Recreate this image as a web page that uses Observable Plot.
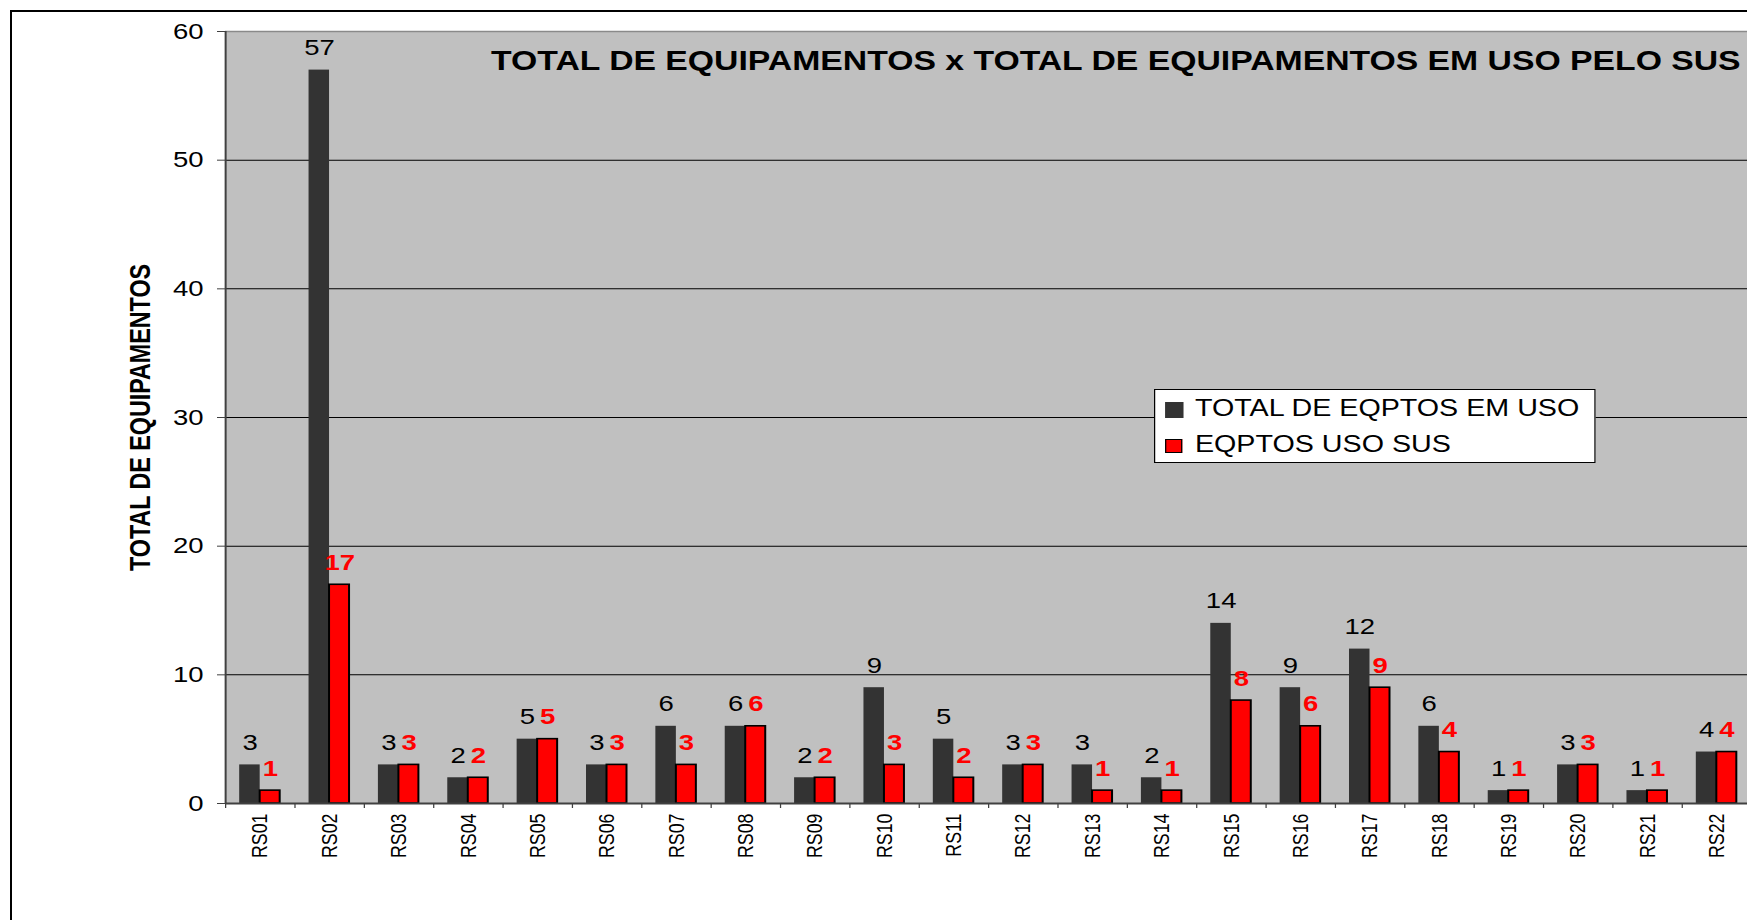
<!DOCTYPE html>
<html>
<head>
<meta charset="utf-8">
<script src="https://cdn.jsdelivr.net/npm/d3@7"></script>
<script src="https://cdn.jsdelivr.net/npm/@observablehq/plot@0.6"></script>
<style>
  html, body { margin: 0; padding: 0; overflow: hidden; background: white; width: 1747px; height: 920px; }
  body { font-family: "Liberation Sans", Arial, sans-serif; }
  #root { position: relative; width: 1747px; height: 920px; overflow: hidden; }
  #chart { position: absolute; left: 0; top: 0; width: 1760px; height: 920px; }
  #border { position: absolute; left: 10px; top: 10px; width: 1800px; height: 1000px; border: 2px solid #000; pointer-events: none; }
  #legend { position: absolute; left: 1154px; top: 389px; width: 439px; height: 74px; }
  #legend .box { position: absolute; left: 0; top: 0; width: 357px; height: 72px; border: 1px solid #000; background: #fff; transform: scaleX(1.23); transform-origin: 0 0; }
  #legend .sw { position: absolute; box-sizing: border-box; }
  #legend .lab { position: absolute; font-size: 23.3px; line-height: 1; white-space: nowrap; color: #000; }
</style>
</head>
<body>
<div id="root">
<div id="chart"></div>
<div id="legend"></div>
<div id="border"></div>
</div>
<script>
// ---- data ----
const regions = ["RS01","RS02","RS03","RS04","RS05","RS06","RS07","RS08","RS09","RS10","RS11",
                 "RS12","RS13","RS14","RS15","RS16","RS17","RS18","RS19","RS20","RS21","RS22"];
const totalEmUso = [3,57,3,2,5,3,6,6,2,9,5,3,3,2,14,9,12,6,1,3,1,4];
const usoSus     = [1,17,3,2,5,3,3,6,2,3,2,3,1,1,8,6,9,4,1,3,1,4];
const yTicks = [0,10,20,30,40,50,60];
const seriesNames = ["TOTAL DE EQPTOS EM USO", "EQPTOS USO SUS"];
const seriesColors = ["#333333", "#ff0000"];
const titleText = "TOTAL DE EQUIPAMENTOS x TOTAL DE EQUIPAMENTOS EM USO PELO SUS";
const yTitle = "TOTAL DE EQUIPAMENTOS";

const data = regions.map((r, i) => ({region: r, total: totalEmUso[i], sus: usoSus[i]}));

// ---- layout (user units; svg is stretched horizontally by S) ----
const S = 1.25;
const W = 1408, H = 920;
const mL = 180, mR = 7.2, mT = 31, mB = 117;
const step = (W - mL - mR) / regions.length;
const wDark = 20.5 / S, wRed = 20 / S;

const chart = Plot.plot({
  width: W, height: H,
  marginLeft: mL, marginRight: mR, marginTop: mT, marginBottom: mB,
  style: {fontFamily: "'Liberation Sans', Arial, sans-serif", background: "transparent", color: "black"},
  x: {domain: regions, paddingInner: 0, paddingOuter: 0, round: false},
  y: {domain: [yTicks[0], yTicks[yTicks.length - 1]]},
  marks: [
    Plot.frame({fill: "#c0c0c0", stroke: null}),
    Plot.ruleY(yTicks.slice(1, -1), {stroke: "#000", strokeWidth: 1}),
    Plot.ruleY([yTicks[yTicks.length - 1]], {stroke: "#8a8a8a", strokeWidth: 1.5}),
    Plot.barY(data, {x: "region", y: "total", fill: seriesColors[0],
      insetLeft: step / 2 - wDark, insetRight: step / 2}),
    Plot.barY(data, {x: "region", y: "sus", fill: seriesColors[1], stroke: "#000", strokeWidth: 1.6,
      insetLeft: step / 2, insetRight: step / 2 - wRed}),
    Plot.ruleY([0], {stroke: "#404040", strokeWidth: 2}),
    Plot.ruleX([regions[0]], {dx: -step / 2, stroke: "#404040", strokeWidth: 1.6}),
    Plot.axisY({ticks: yTicks, tickSize: 6.4, tickPadding: 11.2, fontSize: 22, label: null, stroke: "#404040"}),
    Plot.axisX({tickSize: 5, tickFormat: () => "", dx: -step / 2, label: null, stroke: "#404040"}),
    Plot.axisX({tickSize: 0, tickPadding: 10, tickRotate: -90, fontSize: 17.8, label: null}),
    Plot.text(data, {x: "region", y: "total", text: d => String(d.total),
      dx: -(20.5 / 2) / S, dy: -15, lineAnchor: "bottom", fontSize: 22, fill: "#000"}),
    Plot.text(data, {x: "region", y: "sus", text: d => String(d.sus),
      dx: (20 / 2) / S, dy: -15, lineAnchor: "bottom", fontSize: 22, fontWeight: "bold", fill: "#ff0000"}),
    Plot.text([titleText], {frameAnchor: "top-right", dx: -8.8, dy: 38, lineAnchor: "bottom",
      textAnchor: "end", fontSize: 27.0, fontWeight: "bold", fill: "#000"}),
    Plot.text([yTitle], {frameAnchor: "left", dx: -68, rotate: -90, textAnchor: "middle",
      lineAnchor: "middle", fontSize: 23.3, fontWeight: "bold", fill: "#000"})
  ]
});
chart.setAttribute("preserveAspectRatio", "none");
chart.style.width = (W * S) + "px";
chart.style.height = H + "px";
chart.style.maxWidth = "none";
document.getElementById("chart").appendChild(chart);

// ---- legend ----
const legend = document.getElementById("legend");
const box = document.createElement("div");
box.className = "box";
legend.appendChild(box);
const rows = [
  {sw: {left: 8, top: 12, w: 14.6, h: 16, border: "none"}, textTop: 7.3},
  {sw: {left: 7.5, top: 49, w: 14.6, h: 14, border: "1.5px solid #000"}, textTop: 43.3}
];
seriesNames.forEach((name, i) => {
  const r = rows[i];
  const sw = document.createElement("div");
  sw.className = "sw";
  Object.assign(sw.style, {left: r.sw.left + "px", top: r.sw.top + "px", width: r.sw.w + "px",
    height: r.sw.h + "px", background: seriesColors[i], border: r.sw.border});
  box.appendChild(sw);
  const lab = document.createElement("div");
  lab.className = "lab";
  lab.textContent = name;
  Object.assign(lab.style, {left: "32.3px", top: r.textTop + "px"});
  box.appendChild(lab);
});
</script>
</body>
</html>
